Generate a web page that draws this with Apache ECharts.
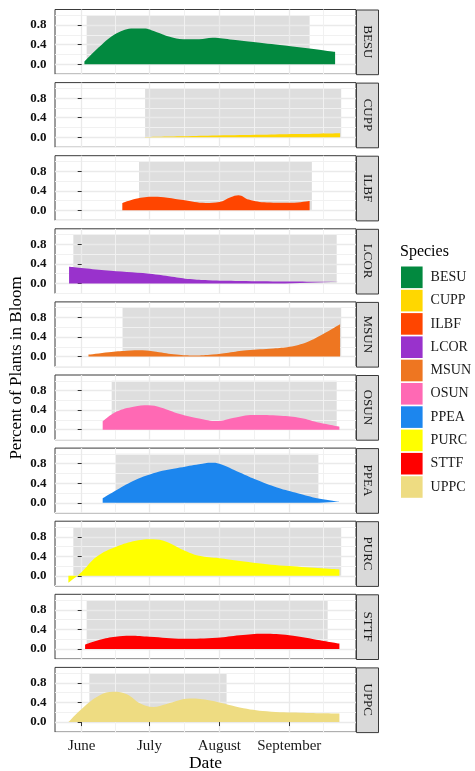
<!DOCTYPE html>
<html><head><meta charset="utf-8">
<script src="https://cdn.jsdelivr.net/npm/echarts@6/dist/echarts.min.js"></script>
<style>html,body{margin:0;padding:0;background:#fff}#c{width:475px;height:771px}</style>
</head><body><div id="c"></div>
<script>
// ---- data (x = days since June 1) ----
const species = ['BESU','CUPP','ILBF','LCOR','MSUN','OSUN','PPEA','PURC','STTF','UPPC'];
const monthLabels = ['June','July','August','September'];
const monthTicks = [0, 30, 61, 92];
const octoberStart = 122;
const yTicks = [0, 0.4, 0.8];
const yMinorTicks = [-0.2, 0.2, 0.6, 1.0];

const besu = [[1.2,0.05],[8,0.36],[15.5,0.63],[23,0.73],[27.5,0.73],[33,0.66],[39,0.56],[45,0.51],[52,0.51],[58,0.54],[67,0.50],[75,0.46],[90,0.38],[112.3,0.25]];
const cupp = [[28,0.005],[45,0.02],[60,0.035],[80,0.05],[95,0.065],[105,0.072],[114.5,0.08]];
const ilbf = [[18,0.15],[24,0.24],[32,0.28],[38,0.26],[45,0.21],[55,0.15],[61,0.17],[66,0.27],[69.5,0.31],[74,0.22],[82,0.16],[93,0.155],[101,0.19]];
const lcor = [[-5.6,0.34],[10,0.27],[30,0.2],[40,0.14],[48,0.09],[56,0.065],[70,0.05],[90,0.04],[114,0.035]];
const msun = [[3,0.04],[12,0.09],[20,0.12],[27,0.13],[33,0.1],[42,0.04],[50,0.02],[58,0.04],[65,0.08],[73,0.13],[85,0.165],[92,0.2],[100,0.3],[107,0.46],[114.5,0.66]];
const osun = [[9.3,0.17],[15.5,0.37],[23,0.47],[29.5,0.5],[35,0.455],[43.5,0.32],[52,0.23],[60,0.175],[67,0.24],[76,0.3],[88,0.285],[97,0.24],[105.5,0.14],[114.2,0.06]];
const ppea = [[9.3,0.09],[15.5,0.26],[24,0.47],[33,0.62],[43.5,0.72],[52,0.79],[57.5,0.82],[61,0.8],[70,0.62],[78,0.46],[88,0.29],[97,0.18],[105.5,0.08],[114.2,0.02]];
const purc = [[-5.9,-0.14],[0,0.08],[6.6,0.39],[15.5,0.6],[24,0.72],[31.5,0.75],[37.5,0.7],[45,0.53],[52,0.41],[61,0.36],[76,0.27],[92,0.2],[114.2,0.13]];
const sttf = [[1.5,0.09],[8,0.19],[15,0.25],[21.5,0.27],[30,0.25],[45,0.21],[60,0.23],[70,0.28],[80.5,0.31],[92,0.28],[104,0.19],[114.2,0.11]];
const uppc = [[-5.9,0],[0.7,0.3],[8,0.55],[14,0.62],[20,0.57],[26,0.38],[31.7,0.31],[37.6,0.37],[48,0.48],[57,0.44],[70,0.3],[82,0.22],[97,0.19],[114.2,0.175]];
const seriesValues = [besu, cupp, ilbf, lcor, msun, osun, ppea, purc, sttf, uppc];

const windowStart = [2.2, 28.1, 25.4, -3.7, 18.1, 13.3, 15.2, -3.7, 2.2, 3.4];
const windowEnd   = [101, 115, 102, 113, 115, 113, 104.9, 115, 109, 64.2];
const windowTop = 1.0;

// ---- styles / layout ----
const colors = ['#02893F','#FFD700','#FF4500','#9932CC','#EE7621','#FF69B4','#1C86EE','#FFFF00','#FF0000','#EEDC82'];
const FONT = 'Liberation Serif';
const L = 55, W = 301, T0 = 9.5, P = 73.1, H = 64.7;
const X_MIN = -11.83, X_MAX = 121.56, Y_MIN = -0.205, Y_MAX = 1.118;
const xMinor = monthTicks.map((v, i) => (v + (i < monthTicks.length - 1 ? monthTicks[i + 1] : octoberStart)) / 2);

const grids = [], xAxes = [], yAxes = [], series = [], graphics = [];
species.forEach((sp, i) => {
  const top = T0 + P * i;
  const last = i === species.length - 1;
  grids.push({left: L, top: top, width: W, height: H, show: true, borderColor: '#3a3a3a', borderWidth: 1, backgroundColor: 'transparent'});
  xAxes.push({type: 'value', gridIndex: i, min: X_MIN, max: X_MAX, z: 1, position: 'bottom',
    axisLine: {show: false},
    axisTick: {show: last, length: 4, lineStyle: {color: '#333'}, customValues: monthTicks},
    axisLabel: {show: last, customValues: monthTicks, margin: 6, hideOverlap: false,
      formatter: v => monthLabels[monthTicks.indexOf(v)] || '',
      fontFamily: FONT, fontSize: 15, color: '#1a1a1a'},
    splitLine: {show: true, lineStyle: {color: '#EAEAEA', width: 1.3}}
  });
  xAxes.push({type: 'value', gridIndex: i, min: X_MIN, max: X_MAX, z: 1, position: 'top',
    axisLine: {show: false}, axisLabel: {show: false},
    axisTick: {show: false, customValues: xMinor},
    splitLine: {show: true, lineStyle: {color: '#F1F1F1', width: 1}}
  });
  yAxes.push({type: 'value', gridIndex: i, min: Y_MIN, max: Y_MAX, z: 1, position: 'left',
    axisLine: {show: false},
    axisTick: {show: true, length: 4, lineStyle: {color: '#333'}, customValues: yTicks},
    axisLabel: {show: false, customValues: yTicks},
    splitLine: {show: true, lineStyle: {color: '#EAEAEA', width: 1.3}}
  });
  yAxes.push({type: 'value', gridIndex: i, min: Y_MIN, max: Y_MAX, z: 1, position: 'right',
    axisLine: {show: false}, axisLabel: {show: false},
    axisTick: {show: false, customValues: yMinorTicks},
    splitLine: {show: true, lineStyle: {color: '#F1F1F1', width: 1}}
  });
  series.push({type: 'custom', xAxisIndex: 2 * i, yAxisIndex: 2 * i, z: -1, silent: true,
    data: [[windowStart[i], windowEnd[i], windowTop]],
    encode: {x: [0, 1], y: 2},
    renderItem: (params, api) => {
      const p0 = api.coord([api.value(0), api.value(2)]);
      const p1 = api.coord([api.value(1), 0]);
      return {type: 'rect', shape: {x: p0[0], y: p0[1], width: p1[0] - p0[0], height: p1[1] - p0[1]},
        style: {fill: '#DEDEDE'}};
    }
  });
  series.push({type: 'line', name: sp, xAxisIndex: 2 * i, yAxisIndex: 2 * i, z: 2,
    data: seriesValues[i], smooth: 0.4, showSymbol: false, symbol: 'none',
    color: colors[i], lineStyle: {width: 0}, areaStyle: {color: colors[i], opacity: 1}
  });
  graphics.push({type: 'rect', left: L + W, top: top, shape: {width: 22, height: H},
    style: {fill: '#D9D9D9', stroke: '#3a3a3a', lineWidth: 1}});
  graphics.push({type: 'text', x: L + W + 11, y: top + H / 2, rotation: -Math.PI / 2,
    style: {text: sp, fontFamily: FONT, fontSize: 13, fill: '#1a1a1a', align: 'center', verticalAlign: 'middle'}});
});

graphics.push({type: 'text', x: (L + L + W) / 2, y: 763, style: {text: 'Date', fontFamily: FONT, fontSize: 17.5, fill: '#000', align: 'center', verticalAlign: 'middle'}});
graphics.push({type: 'text', x: 17, y: 368, rotation: Math.PI / 2, style: {text: 'Percent of Plants in Bloom', fontFamily: FONT, fontSize: 17, fill: '#000', align: 'center', verticalAlign: 'middle'}});
graphics.push({type: 'text', x: 400, y: 252, style: {text: 'Species', fontFamily: FONT, fontSize: 16, fill: '#000', align: 'left', verticalAlign: 'middle'}});

const chart = echarts.init(document.getElementById('c'), null, {renderer: 'canvas'});
chart.setOption({
  animation: false,
  backgroundColor: '#fff',
  grid: grids, xAxis: xAxes, yAxis: yAxes, series: series,
  legend: {data: species, orient: 'vertical', left: 401, top: 266.5, padding: 0,
    icon: 'rect', itemWidth: 21.6, itemHeight: 21.6, itemGap: 1.7, selectedMode: false,
    textStyle: {fontFamily: FONT, fontSize: 14, color: '#1a1a1a', padding: [0, 0, 0, 3]}}
});

// y tick labels placed through each panel's own y scale
species.forEach((sp, i) => {
  yTicks.forEach(v => {
    const py = chart.convertToPixel({yAxisIndex: 2 * i}, v);
    graphics.push({type: 'text', x: L - 8.5, y: py,
      style: {text: v.toFixed(1), fontFamily: FONT, fontSize: 13, fontWeight: 'bold', fill: '#111', align: 'right', verticalAlign: 'middle'}});
  });
});
chart.setOption({graphic: graphics});
</script></body></html>
